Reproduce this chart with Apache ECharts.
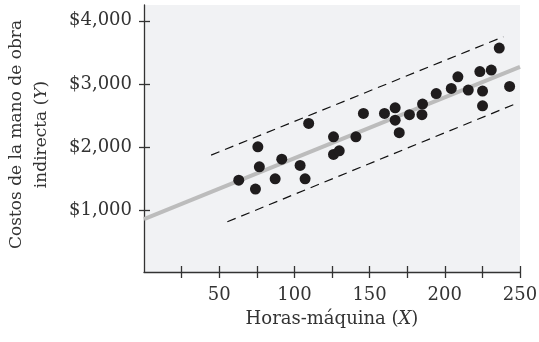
<!DOCTYPE html>
<html>
<head>
<meta charset="utf-8">
<script src="https://cdn.jsdelivr.net/npm/echarts@6/dist/echarts.min.js"></script>
<style>html,body{margin:0;padding:0;background:#fff;}#c{width:539px;height:342px;}</style>
</head>
<body>
<div id="c"></div>
<script>
// Machine hours (X) and indirect labor cost (Y)
const hours = [63.0, 74.1, 75.7, 76.7, 87.2, 91.6, 103.8, 107.1, 109.5, 126.0, 126.0, 129.8, 140.9, 145.9, 159.9, 167.0, 167.0, 169.7, 176.5, 184.8, 185.2, 194.3, 204.3, 208.7, 215.6, 223.3, 230.9, 225.1, 225.1, 236.2, 243.1];
const costs = [1475, 1333, 2003, 1686, 1496, 1808, 1708, 1496, 2374, 2162, 1883, 1940, 2162, 2532, 2532, 2621, 2426, 2228, 2513, 2513, 2680, 2846, 2929, 3113, 2902, 3195, 3219, 2886, 2653, 3567, 2960];
// Regression line and prediction band endpoints
const fitLine = [[0, 857], [250, 3271]];
const upperBand = [[44.6, 1872], [238.9, 3746]];
const lowerBand = [[55.4, 815], [248.2, 2696]];
// Tick labels
const xTickValues = [25, 50, 75, 100, 125, 150, 175, 200, 225, 250];
const xLabelValues = [50, 100, 150, 200, 250];
const yTickValues = [1000, 2000, 3000, 4000];

const points = hours.map((h, i) => [h, costs[i]]);
const font = 'DejaVu Serif';
const ink = '#333';

const chart = echarts.init(document.getElementById('c'), null, {renderer: 'canvas'});
chart.setOption({
  animation: false,
  backgroundColor: '#fff',
  grid: {left: 144, right: 19, top: 5, bottom: 70, show: true, backgroundColor: '#f1f2f4', borderWidth: 0, containLabel: false, outerBoundsMode: 'none'},
  xAxis: [{
    type: 'value', min: 0, max: 250, interval: 25, position: 'bottom',
    axisLine: {show: true, onZero: false, lineStyle: {color: ink, width: 1.3}},
    axisTick: {show: true, length: 6, customValues: xTickValues, lineStyle: {color: ink, width: 1.3}},
    axisLabel: {customValues: xLabelValues, margin: 14, fontFamily: font, fontSize: 18, color: ink},
    splitLine: {show: false},
    name: '{n|Horas-máquina (}{i|X}{n|)}', nameLocation: 'middle', nameGap: 38,
    nameTextStyle: {rich: {n: {fontFamily: font, fontSize: 18, color: ink}, i: {fontFamily: font, fontSize: 18, fontStyle: 'italic', color: ink}}}
  }, {
    type: 'value', min: 0, max: 250, interval: 25, position: 'bottom',
    axisLine: {show: false},
    axisTick: {show: true, inside: true, length: 6, customValues: xTickValues, lineStyle: {color: ink, width: 1.3}},
    axisLabel: {show: false}, splitLine: {show: false}
  }],
  yAxis: [{
    type: 'value', min: 20, max: 4250, position: 'left',
    axisLine: {show: true, onZero: false, lineStyle: {color: ink, width: 1.3}},
    axisTick: {show: true, length: 5, customValues: yTickValues, lineStyle: {color: ink, width: 1.3}},
    axisLabel: {customValues: yTickValues, margin: 12, fontFamily: font, fontSize: 18, color: ink,
      formatter: v => '$' + v.toLocaleString('en-US')},
    splitLine: {show: false},
    name: '{n|Costos de la mano de obra}\n{n|indirecta (}{i|Y}{n|)}', nameLocation: 'middle', nameGap: 90,
    nameTextStyle: {padding: [0, 0, 0, 8], rich: {n: {fontFamily: font, fontSize: 17, color: ink, lineHeight: 25}, i: {fontFamily: font, fontSize: 17, fontStyle: 'italic', color: ink, lineHeight: 25}}}
  }, {
    type: 'value', min: 20, max: 4250, position: 'left',
    axisLine: {show: false},
    axisTick: {show: true, inside: true, length: 6, customValues: yTickValues, lineStyle: {color: ink, width: 1.3}},
    axisLabel: {show: false}, splitLine: {show: false}
  }],
  series: [
    {type: 'line', data: fitLine, symbol: 'none', lineStyle: {color: '#bcbcbc', width: 4}, z: 1, silent: true},
    {type: 'line', data: upperBand, symbol: 'none', lineStyle: {color: '#111', width: 1.2, type: [9, 6]}, z: 2, silent: true},
    {type: 'line', data: lowerBand, symbol: 'none', lineStyle: {color: '#111', width: 1.2, type: [9, 6]}, z: 2, silent: true},
    {type: 'scatter', data: points, symbol: 'circle', symbolSize: 11, itemStyle: {color: '#1f1c1d', opacity: 1}, z: 3}
  ]
});
</script>
</body>
</html>
